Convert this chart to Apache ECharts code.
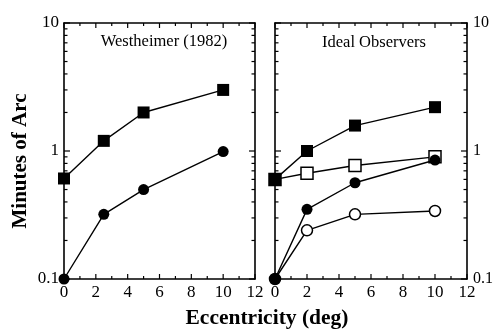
<!DOCTYPE html>
<html>
<head>
<meta charset="utf-8">
<script src="https://cdn.jsdelivr.net/npm/echarts@6/dist/echarts.min.js"></script>
<style>
  html, body { margin: 0; padding: 0; background: #fff; }
  #chart { width: 493px; height: 330px; }
</style>
</head>
<body>
<div id="chart"></div>
<script>
// Westheimer (1982) thresholds versus eccentricity
const westX = [0, 2.5, 5, 10];
const westSquares = [0.61, 1.2, 2.0, 3.0];
const westCircles = [0.1, 0.32, 0.5, 0.99];

// Ideal observer thresholds versus eccentricity
const idealX = [0, 2, 5, 10];
const idealFilledSquares = [0.6, 1.0, 1.58, 2.2];
const idealOpenSquares = [0.6, 0.67, 0.77, 0.9];
const idealFilledCircles = [0.1, 0.35, 0.565, 0.85];
const idealOpenCircles = [0.1, 0.24, 0.32, 0.34];

// Axis ticks
const xMajorTicks = [0, 2, 4, 6, 8, 10, 12];
const xMinorTicks = [1, 3, 5, 7, 9, 11];
const yMajorTicks = [0.1, 1, 10];
const yMinorTicks = [0.2, 0.3, 0.4, 0.5, 0.6, 0.7, 0.8, 0.9, 2, 3, 4, 5, 6, 7, 8, 9];

const X_MIN = 0, X_MAX = 12, Y_MIN = 0.1, Y_MAX = 10;
const FONT = '"Liberation Serif", "DejaVu Serif", serif';
const INK = '#000';

const chart = echarts.init(document.getElementById('chart'), null, { renderer: 'canvas' });

const pairs = (xs, ys) => xs.map((x, i) => [x, ys[i]]);

function xAxisFor(gridIndex, position, showLabels) {
  return {
    type: 'value', gridIndex, position,
    min: X_MIN, max: X_MAX, interval: 2,
    axisLine: { show: true, onZero: false, lineStyle: { color: INK, width: 1.6 } },
    axisTick: { show: false },
    axisLabel: { show: showLabels, customValues: xMajorTicks, margin: 5, fontFamily: FONT, fontSize: 17, color: INK },
    splitLine: { show: false }
  };
}

function yAxisFor(gridIndex, position, showLabels) {
  const right = position === 'right';
  return {
    type: 'log', logBase: 10, gridIndex, position,
    min: Y_MIN, max: Y_MAX,
    axisLine: { show: true, onZero: false, lineStyle: { color: INK, width: 1.6 } },
    axisTick: { show: false },
    axisLabel: {
      show: showLabels, customValues: yMajorTicks, margin: right ? 6 : 5,
      fontFamily: FONT, fontSize: right ? 16 : 17, color: INK,
      formatter: v => String(v)
    },
    splitLine: { show: false }
  };
}

// Inward tick marks on all four sides of a panel, placed through the panel's own scales
function tickSeries(xi, yi) {
  const items = [];
  xMajorTicks.forEach(v => items.push([v, 1, 5]));
  xMinorTicks.forEach(v => items.push([v, 1, 3]));
  yMajorTicks.forEach(v => items.push([v, 0, 6]));
  yMinorTicks.forEach(v => items.push([v, 0, 3.5]));
  return {
    type: 'custom', xAxisIndex: xi, yAxisIndex: yi, clip: false, silent: true, z: 1,
    data: items,
    encode: { x: -1, y: -1 },
    renderItem(params, api) {
      const v = api.value(0), isX = api.value(1) === 1, len = api.value(2);
      const style = { stroke: INK, lineWidth: 1.2 };
      if (isX) {
        const b = api.coord([v, Y_MIN]), t = api.coord([v, Y_MAX]);
        return { type: 'group', children: [
          { type: 'line', shape: { x1: b[0], y1: b[1], x2: b[0], y2: b[1] - len }, style },
          { type: 'line', shape: { x1: t[0], y1: t[1], x2: t[0], y2: t[1] + len }, style }
        ] };
      }
      const l = api.coord([X_MIN, v]), r = api.coord([X_MAX, v]);
      return { type: 'group', children: [
        { type: 'line', shape: { x1: l[0], y1: l[1], x2: l[0] + len, y2: l[1] }, style },
        { type: 'line', shape: { x1: r[0], y1: r[1], x2: r[0] - len, y2: r[1] }, style }
      ] };
    }
  };
}

function lineSeries(xi, yi, data, symbol, size, filled, z) {
  return {
    type: 'line', xAxisIndex: xi, yAxisIndex: yi, data,
    symbol, symbolSize: size, showSymbol: true, clip: false, z,
    lineStyle: { color: INK, width: 1.4 },
    itemStyle: { color: filled ? INK : '#fff', borderColor: INK, borderWidth: filled ? 0 : 1.5, opacity: 1 },
    emphasis: { disabled: true }
  };
}

const option = {
  animation: false,
  backgroundColor: '#fff',
  grid: [
    { left: 64, top: 23, width: 191, height: 256, outerBoundsMode: 'none', containLabel: false },
    { left: 275, top: 23, width: 192, height: 256, outerBoundsMode: 'none', containLabel: false }
  ],
  xAxis: [
    xAxisFor(0, 'bottom', true),
    xAxisFor(0, 'top', false),
    xAxisFor(1, 'bottom', true),
    xAxisFor(1, 'top', false)
  ],
  yAxis: [
    yAxisFor(0, 'left', true),
    yAxisFor(0, 'right', false),
    yAxisFor(1, 'left', false),
    yAxisFor(1, 'right', true)
  ],
  series: [
    tickSeries(0, 0),
    tickSeries(2, 2),
    lineSeries(0, 0, pairs(westX, westSquares), 'rect', 12, true, 3),
    lineSeries(0, 0, pairs(westX, westCircles), 'circle', 11, true, 3),
    lineSeries(2, 2, pairs(idealX, idealOpenSquares), 'rect', 12, false, 2),
    lineSeries(2, 2, pairs(idealX, idealFilledSquares), 'rect', 12, true, 3),
    lineSeries(2, 2, pairs(idealX, idealOpenCircles), 'circle', 11, false, 2),
    lineSeries(2, 2, pairs(idealX, idealFilledCircles), 'circle', 11, true, 4)
  ],
  graphic: [
    {
      type: 'text', x: 164, y: 42,
      style: { text: 'Westheimer (1982)', fontFamily: FONT, fontSize: 16.5, fill: INK, align: 'center', verticalAlign: 'middle' }
    },
    {
      type: 'text', x: 374, y: 43,
      style: { text: 'Ideal Observers', fontFamily: FONT, fontSize: 16.5, fill: INK, align: 'center', verticalAlign: 'middle' }
    },
    {
      type: 'text', x: 21, y: 161, rotation: Math.PI / 2,
      style: { text: 'Minutes of Arc', fontFamily: FONT, fontSize: 21, fontWeight: 'bold', fill: INK, align: 'center', verticalAlign: 'middle' }
    },
    {
      type: 'text', x: 267, y: 318,
      style: { text: 'Eccentricity (deg)', fontFamily: FONT, fontSize: 21.5, fontWeight: 'bold', fill: INK, align: 'center', verticalAlign: 'middle' }
    }
  ]
};

chart.setOption(option);
</script>
</body>
</html>
